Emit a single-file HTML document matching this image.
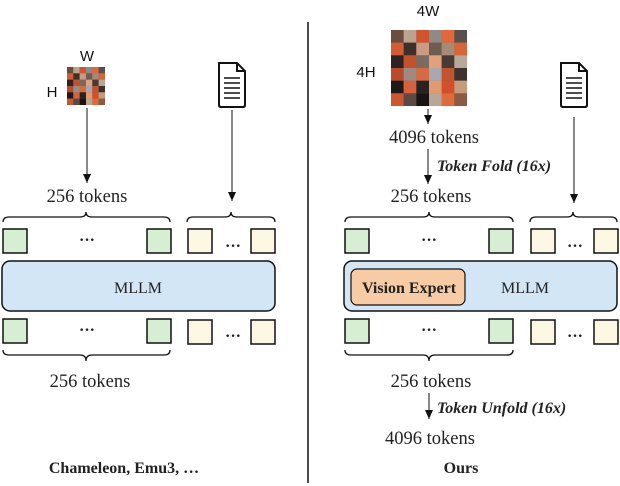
<!DOCTYPE html>
<html><head><meta charset="utf-8"><style>
html,body{margin:0;padding:0;background:#fff;}
svg{display:block;}
.s{font-family:"Liberation Serif",serif;font-size:16px;fill:#222;}
.t{font-family:"Liberation Serif",serif;font-size:18.5px;fill:#222;}
.a{font-family:"Liberation Sans",sans-serif;font-size:15px;fill:#111;}
</style></head><body>
<svg width="620" height="486" viewBox="0 0 620 486" xmlns="http://www.w3.org/2000/svg">
<defs>
<marker id="ar" markerWidth="10" markerHeight="10" refX="9" refY="4" orient="auto" markerUnits="userSpaceOnUse">
<path d="M0,0 L9,4 L0,8 Z" fill="#111"/></marker>
<g id="img">
<rect x="0" y="0" width="6" height="6" fill="#8a6a55"/>
<rect x="0" y="0" width="1" height="1" fill="#6b4d3c"/>
<rect x="1" y="0" width="1" height="1" fill="#b9a48f"/>
<rect x="2" y="0" width="1" height="1" fill="#d2532d"/>
<rect x="3" y="0" width="1" height="1" fill="#8f8a85"/>
<rect x="4" y="0" width="1" height="1" fill="#e0683c"/>
<rect x="5" y="0" width="1" height="1" fill="#5a4f4a"/>
<rect x="0" y="1" width="1" height="1" fill="#d45b33"/>
<rect x="1" y="1" width="1" height="1" fill="#3c302b"/>
<rect x="2" y="1" width="1" height="1" fill="#c99b82"/>
<rect x="3" y="1" width="1" height="1" fill="#6f5b50"/>
<rect x="4" y="1" width="1" height="1" fill="#a58a76"/>
<rect x="5" y="1" width="1" height="1" fill="#d8643a"/>
<rect x="0" y="2" width="1" height="1" fill="#2b2423"/>
<rect x="1" y="2" width="1" height="1" fill="#c4502c"/>
<rect x="2" y="2" width="1" height="1" fill="#7a6a62"/>
<rect x="3" y="2" width="1" height="1" fill="#e1a07e"/>
<rect x="4" y="2" width="1" height="1" fill="#4a3a35"/>
<rect x="5" y="2" width="1" height="1" fill="#b8a89a"/>
<rect x="0" y="3" width="1" height="1" fill="#bb4a2b"/>
<rect x="1" y="3" width="1" height="1" fill="#9a8c84"/>
<rect x="2" y="3" width="1" height="1" fill="#d66b42"/>
<rect x="3" y="3" width="1" height="1" fill="#a6aab0"/>
<rect x="4" y="3" width="1" height="1" fill="#c2542f"/>
<rect x="5" y="3" width="1" height="1" fill="#3d302d"/>
<rect x="0" y="4" width="1" height="1" fill="#1e1a1a"/>
<rect x="1" y="4" width="1" height="1" fill="#d8603a"/>
<rect x="2" y="4" width="1" height="1" fill="#2a2222"/>
<rect x="3" y="4" width="1" height="1" fill="#e29b6e"/>
<rect x="4" y="4" width="1" height="1" fill="#d34f2c"/>
<rect x="5" y="4" width="1" height="1" fill="#c89a7c"/>
<rect x="0" y="5" width="1" height="1" fill="#cf5430"/>
<rect x="1" y="5" width="1" height="1" fill="#5a4a44"/>
<rect x="2" y="5" width="1" height="1" fill="#181414"/>
<rect x="3" y="5" width="1" height="1" fill="#b7a797"/>
<rect x="4" y="5" width="1" height="1" fill="#e06a3c"/>
<rect x="5" y="5" width="1" height="1" fill="#8a5a45"/>
</g>
<g id="doc">
<path d="M1,1 H19 L27,9 V43 Q27,45 25,45 H3 Q1,45 1,43 Z" fill="#fff" stroke="#111" stroke-width="2"/>
<path d="M19,1 V9 H27" fill="none" stroke="#111" stroke-width="2"/>
<path d="M6,16 H22 M6,21 H22 M6,26 H22 M6,31 H22 M6,36 H22" stroke="#111" stroke-width="1.6"/>
</g>
</defs>

<line x1="308" y1="22" x2="308" y2="483" stroke="#111" stroke-width="1.5"/>

<!-- LEFT -->
<text x="87" y="61" class="a" text-anchor="middle">W</text>
<text x="52" y="97" class="a" text-anchor="middle">H</text>
<use href="#img" transform="translate(67,67) scale(6.33)"/>
<use href="#doc" transform="translate(218,62)"/>
<line x1="87" y1="108" x2="87" y2="183" stroke="#111" marker-end="url(#ar)"/>
<text x="87" y="202" class="t" text-anchor="middle">256 tokens</text>
<line x1="232" y1="110" x2="232" y2="201" stroke="#111" marker-end="url(#ar)"/>
<path d="M3,222 Q3,217 9,217 L80,217 Q86,217 86,212 Q86,217 92,217 L164,217 Q170,217 170,222" fill="none" stroke="#111" stroke-width="1.3"/>
<path d="M187,222 Q187,217 193,217 L225,217 Q231,217 231,212 Q231,217 237,217 L269,217 Q275,217 275,222" fill="none" stroke="#111" stroke-width="1.3"/>
<g stroke="#111" stroke-width="1.5">
<rect x="3" y="229" width="24" height="24" fill="#d6efd2"/>
<rect x="147" y="229" width="24" height="24" fill="#d6efd2"/>
<rect x="188" y="229" width="24" height="24" fill="#fdf8e4"/>
<rect x="251" y="229" width="24" height="24" fill="#fdf8e4"/>
<rect x="2" y="261" width="273" height="50" rx="8" fill="#d2e6f6"/>
<rect x="3" y="319" width="24" height="24" fill="#d6efd2"/>
<rect x="147" y="319" width="24" height="24" fill="#d6efd2"/>
<rect x="188" y="320" width="24" height="24" fill="#fdf8e4"/>
<rect x="251" y="320" width="24" height="24" fill="#fdf8e4"/>
</g>
<text x="87" y="245" class="s" text-anchor="middle" font-weight="bold" font-size="19">···</text>
<text x="233" y="251" class="s" text-anchor="middle" font-weight="bold" font-size="19">···</text>
<text x="87" y="335" class="s" text-anchor="middle" font-weight="bold" font-size="19">···</text>
<text x="233" y="341" class="s" text-anchor="middle" font-weight="bold" font-size="19">···</text>
<text x="138" y="293" class="s" text-anchor="middle" font-size="15">MLLM</text>
<path d="M3,350 Q3,355 9,355 L80,355 Q86,355 86,361 Q86,355 92,355 L164,355 Q170,355 170,350" fill="none" stroke="#111" stroke-width="1.3"/>
<text x="90" y="387" class="t" text-anchor="middle">256 tokens</text>
<text x="124" y="473" class="s" text-anchor="middle" font-weight="bold" font-size="15.6">Chameleon, Emu3, …</text>

<!-- RIGHT -->
<text x="428" y="16" class="a" text-anchor="middle">4W</text>
<text x="366" y="77" class="a" text-anchor="middle">4H</text>
<use href="#img" transform="translate(391,30) scale(12.67)"/>
<use href="#doc" transform="translate(560,62)"/>
<line x1="428" y1="109" x2="428" y2="124" stroke="#111" marker-end="url(#ar)"/>
<text x="434" y="143" class="t" text-anchor="middle">4096 tokens</text>
<line x1="428" y1="149" x2="428" y2="184" stroke="#111" marker-end="url(#ar)"/>
<text x="437" y="171" class="s" font-weight="bold" font-style="italic" font-size="15.8">Token Fold (16x)</text>
<text x="431" y="202" class="t" text-anchor="middle">256 tokens</text>
<line x1="574" y1="117" x2="574" y2="203" stroke="#111" marker-end="url(#ar)"/>
<path d="M345,222 Q345,217 351,217 L423,217 Q429,217 429,212 Q429,217 435,217 L507,217 Q513,217 513,222" fill="none" stroke="#111" stroke-width="1.3"/>
<path d="M530,222 Q530,217 536,217 L567,217 Q573,217 573,212 Q573,217 579,217 L611,217 Q617,217 617,222" fill="none" stroke="#111" stroke-width="1.3"/>
<g stroke="#111" stroke-width="1.5">
<rect x="345" y="229" width="24" height="24" fill="#d6efd2"/>
<rect x="489" y="229" width="24" height="24" fill="#d6efd2"/>
<rect x="531" y="229" width="24" height="24" fill="#fdf8e4"/>
<rect x="594" y="229" width="24" height="24" fill="#fdf8e4"/>
<rect x="344" y="261" width="273" height="50" rx="8" fill="#d2e6f6"/>
<rect x="351" y="269" width="114" height="36" rx="6" fill="#f7cba3" stroke-width="1.2"/>
<rect x="345" y="319" width="24" height="24" fill="#d6efd2"/>
<rect x="489" y="319" width="24" height="24" fill="#d6efd2"/>
<rect x="531" y="320" width="24" height="24" fill="#fdf8e4"/>
<rect x="594" y="320" width="24" height="24" fill="#fdf8e4"/>
</g>
<text x="429" y="245" class="s" text-anchor="middle" font-weight="bold" font-size="19">···</text>
<text x="575" y="251" class="s" text-anchor="middle" font-weight="bold" font-size="19">···</text>
<text x="429" y="335" class="s" text-anchor="middle" font-weight="bold" font-size="19">···</text>
<text x="575" y="341" class="s" text-anchor="middle" font-weight="bold" font-size="19">···</text>
<text x="409" y="293" class="s" text-anchor="middle" font-weight="bold" font-size="15.5">Vision Expert</text>
<text x="525" y="293" class="s" text-anchor="middle" font-size="15">MLLM</text>
<path d="M345,350 Q345,355 351,355 L423,355 Q429,355 429,361 Q429,355 435,355 L507,355 Q513,355 513,350" fill="none" stroke="#111" stroke-width="1.3"/>
<text x="431" y="387" class="t" text-anchor="middle">256 tokens</text>
<line x1="429" y1="393" x2="429" y2="419" stroke="#111" marker-end="url(#ar)"/>
<text x="437" y="413" class="s" font-weight="bold" font-style="italic" font-size="15.8">Token Unfold (16x)</text>
<text x="430" y="444" class="t" text-anchor="middle">4096 tokens</text>
<text x="461" y="473" class="s" text-anchor="middle" font-weight="bold" font-size="16.5">Ours</text>
</svg>
</body></html>
